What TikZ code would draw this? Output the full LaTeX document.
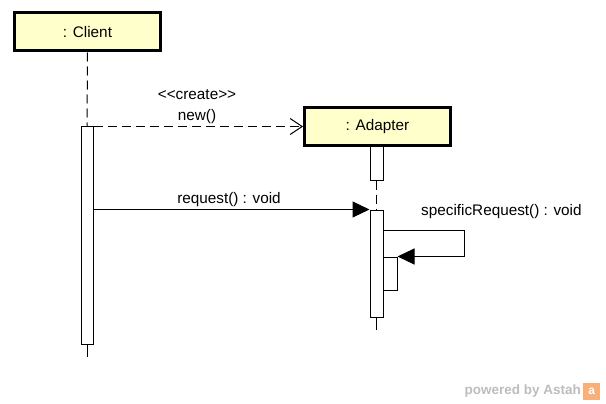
\documentclass[tikz,border=0pt]{standalone}
\usepackage{fontspec}
\setmainfont{Liberation Sans}
\usetikzlibrary{arrows.meta,calc}
\definecolor{objfill}{HTML}{FFFFCC}
\definecolor{wmgray}{HTML}{BDBDBD}
\definecolor{astahor}{HTML}{F7B07A}
\begin{document}
\begin{tikzpicture}[x=1pt,y=-1pt,
  txt/.style={font=\fontsize{15.3}{17}\selectfont},
  objbox/.style={txt,draw=black,line width=3pt,fill=objfill,inner sep=0pt,minimum width=146pt,minimum height=38pt},
  actbox/.style={draw=black,line width=1pt,fill=white,inner sep=0pt},
  lifedash/.style={line width=1pt,dash pattern=on 9pt off 5pt},
  life/.style={line width=1pt},
  msg/.style={line width=1pt},
  lbl/.style={txt,inner sep=0pt},
  filledtip/.style={-{Triangle[length=17pt,width=16pt]}},
  opentip/.style={-{Straight Barb[length=12pt,width=16pt,line width=1pt]}}
]
\useasboundingbox (0,0) rectangle (606,404);
% lifeline heads
\node[objbox] (client) at (87.5,32) {: Client};
\node[objbox] (adapter) at (377.5,126.5) {: Adapter};
% activations
\node[actbox,minimum width=12pt,minimum height=217pt] (ca) at (87,235.5) {};
\node[actbox,minimum width=13pt,minimum height=33pt] (a1) at (376.5,163.5) {};
\node[actbox,minimum width=13pt,minimum height=107pt] (a2) at (376.5,263.5) {};
\node[actbox,minimum width=14pt,minimum height=33pt] (na) at (390,273.5) {};
\coordinate (cend) at (87,357);
\coordinate (aend) at (376.5,330);
% lifelines
\draw[lifedash] (client.south) -- (ca.north);
\draw[life] (ca.south) -- (cend);
\draw[lifedash] (a1.south) -- (a2.north);
\draw[life] (a2.south) -- (aend);
% create message
\draw[msg,lifedash,opentip] (ca.north east) -- (adapter.west);
\node[lbl] (lcreate) at (197,95) {<{}<create>{}>};
\node[lbl] (lnew) at (197,117) {new()};
% request message
\draw[msg,filledtip] (a2.north west -| ca.east) -- (a2.north west);
\node[lbl] (lreq) at (229,200) {request() : void};
% self message
\draw[msg,filledtip] ($(a2.north east)+(0,21)$) -- ++(81,0) |- (na.north east);
\node[lbl,anchor=west] (lspec) at (421,212) {specificRequest() : void};
% watermark
\node[font=\bfseries\fontsize{13.5}{15}\selectfont,text=wmgray,anchor=east,inner sep=0pt] (wm) at (581,391) {powered by Astah};
\node[fill=astahor,minimum width=17pt,minimum height=17pt,inner sep=0pt,anchor=west,text=white,font=\bfseries\fontsize{12}{12}\selectfont] (logo) at (583,391) {a};
\end{tikzpicture}
\end{document}
